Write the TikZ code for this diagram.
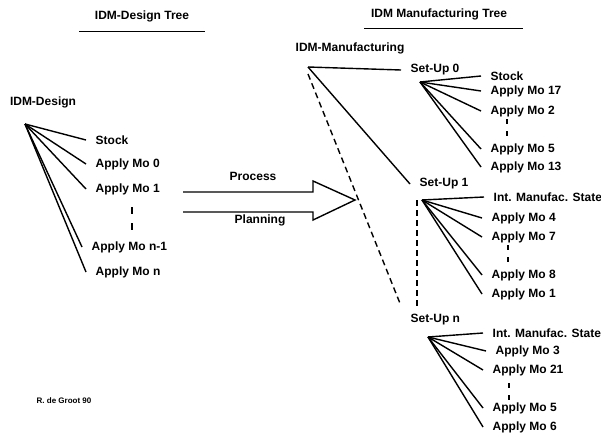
\documentclass[tikz,border=0pt]{standalone}
\usepackage{fontspec}
\setmainfont{Liberation Sans}
\usetikzlibrary{
  calc          % Calculations $...$
}
\def\mydotshift{26pt}
\tikzset{
  font=\fontsize{12}{14}\selectfont\bfseries,
  leaf/.style={
    anchor=west,
    inner xsep=9pt,
    inner ysep=1pt
  },
  head/.style={
    inner sep=1pt
  },
  gap/.style={
    line width=1.1pt,
    dash pattern=on 5pt off 7pt
  },
  link/.style={
    dash pattern=on 6pt off 4pt
  },
  credit/.style={
    font=\fontsize{8}{9}\selectfont\bfseries
  }
}

\begin{document}
\begin{tikzpicture}[x=1pt,y=-1pt,line width=1.4pt]
\useasboundingbox (0,0) rectangle (601,433);
% titles
\node[head] (t1) at (142,16) {IDM-Design Tree};
\node[head] (t2) at (439,14) {IDM Manufacturing Tree};
\draw[line width=1.1pt] ($(t1.south west)+(-14,8)$) -- ($(t1.south east)+(14,8)$);
\draw[line width=1.1pt] ($(t2.south west)+(-5,7)$) -- ($(t2.south east)+(14,7)$);
% design tree
\node[head]  (design) at (43,102)  {IDM-Design};
\coordinate  (d)      at (25,124);
\node[leaf]  (da)     at (86,140)  {Stock};
\node[leaf]  (db)     at (86,164)  {Apply Mo 0};
\node[leaf]  (dc)     at (86,189)  {Apply Mo 1};
\node[leaf]  (dd)     at (82,247)  {Apply Mo n-1};
\node[leaf]  (de)     at (86,272)  {Apply Mo n};
\path (d) edge (da.west) edge (db.west) edge (dc.west)
          edge (dd.west) edge (de.west);
\draw[gap,dash pattern=on 7pt off 9pt] ([xshift=46pt,yshift=-11pt]dc.south west) -- ([xshift=46pt,yshift=9pt]dc.south west |- dd.north);
% process planning arrow
\draw (183,192) -- (313,192) -- (313,181) -- (355,200) -- (313,220) -- (313,212) -- (183,212);
\node[head] (process)  at (253,176) {Process};
\node[head] (planning) at (260,220) {Planning};
% manufacturing tree
\node[head]  (mfg) at (350,48)  {IDM-Manufacturing};
\coordinate  (m)   at (308,67);
\node[leaf]  (su0) at (401,70)  {Set-Up 0};
\node[leaf]  (su1) at (410,184) {Set-Up 1};
\node[leaf]  (sun) at (401,320) {Set-Up n};
\coordinate  (s0)  at (420,82);
\coordinate  (s1)  at (422,200);
\coordinate  (sn)  at (428,337);
\path (m) edge (su0.west) edge (su1.west);
\draw[link] ([yshift=-7pt]m) -- ([yshift=7pt]sun.north west);
\draw[link] ($(s1)+(-5,0)$) -- ($(s1 |- sun.north)+(-5,-7)$);
% set-up 0
\node[leaf] (c0a) at (481,76)  {Stock};
\node[leaf] (c0b) at (481,91)  {Apply Mo 17};
\node[leaf] (c0c) at (481,111) {Apply Mo 2};
\node[leaf] (c0d) at (481,149) {Apply Mo 5};
\node[leaf] (c0e) at (481,167) {Apply Mo 13};
\path (s0) edge (c0a.west) edge (c0b.west) edge (c0c.west)
           edge (c0d.west) edge (c0e.west);
\draw[gap] ([xshift=\mydotshift,yshift=-1pt]c0c.south west) -- ([xshift=\mydotshift,yshift=4pt]c0c.south west |- c0d.north);
% set-up 1
\node[leaf] (c1a) at (484,197) {Int. Manufac. State};
\node[leaf] (c1b) at (482,218) {Apply Mo 4};
\node[leaf] (c1c) at (482,237) {Apply Mo 7};
\node[leaf] (c1d) at (482,275) {Apply Mo 8};
\node[leaf] (c1e) at (482,294) {Apply Mo 1};
\path (s1) edge (c1a.west) edge (c1b.west) edge (c1c.west)
           edge (c1d.west) edge (c1e.west);
\draw[gap] ([xshift=\mydotshift,yshift=-1pt]c1c.south west) -- ([xshift=\mydotshift,yshift=5pt]c1c.south west |- c1d.north);
% set-up n
\node[leaf] (cna) at (483,333) {Int. Manufac. State};
\node[leaf] (cnb) at (486,351) {Apply Mo 3};
\node[leaf] (cnc) at (483,370) {Apply Mo 21};
\node[leaf] (cnd) at (483,408) {Apply Mo 5};
\node[leaf] (cne) at (483,427) {Apply Mo 6};
\path (sn) edge (cna.west) edge (cnb.west) edge (cnc.west)
           edge (cnd.west) edge (cne.west);
\draw[gap] ([xshift=\mydotshift,yshift=-6pt]cnc.south west) -- ([xshift=\mydotshift]cnc.south west |- cnd.north);
% signature
\node[credit] (sig) at (64,401) {R. de Groot 90};
\end{tikzpicture}
\end{document}
